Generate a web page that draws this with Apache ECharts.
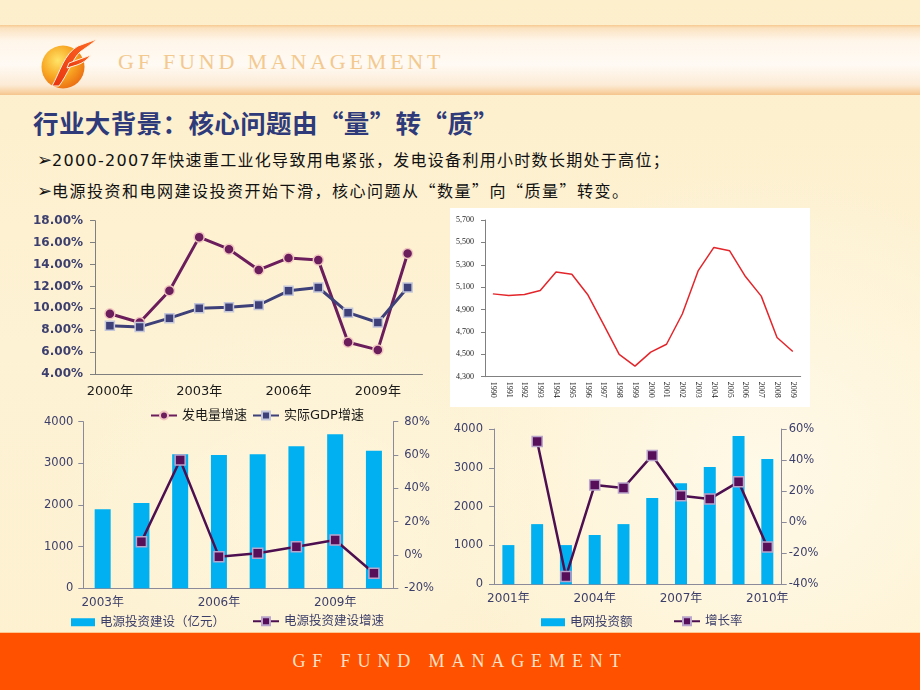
<!DOCTYPE html>
<html><head><meta charset="utf-8">
<script src="https://cdn.jsdelivr.net/npm/echarts@6/dist/echarts.min.js"></script>
<style>
html,body{margin:0;padding:0;background:#fdf0cf;}
#slide{position:relative;width:920px;height:690px;overflow:hidden;
  background:
   radial-gradient(ellipse 330px 300px at 760px 470px, rgba(255,250,235,0.85) 0%, rgba(255,248,228,0.5) 60%, rgba(255,248,228,0) 100%),
   radial-gradient(ellipse 260px 200px at 300px 520px, rgba(255,248,230,0.5) 0%, rgba(255,248,230,0) 100%),
   linear-gradient(to bottom, #fdefcc 0%, #fdf2d4 50%, #fdf1d0 100%);}
#topband{position:absolute;left:0;top:25px;width:920px;height:70px;
  background:linear-gradient(to bottom,#f7c98f 0px,#fbe2c0 3px,#fff6ea 16px,#fffaf4 40px,#fcebd6 60px,#f8d2a4 67px,#f5c48c 70px);}
#brand{position:absolute;left:118px;top:48px;font-family:"Liberation Serif",serif;font-size:22px;letter-spacing:3.8px;color:#f3c98f;white-space:nowrap;line-height:28px;}
#title{position:absolute;left:33px;top:105px;font-family:"Noto Sans CJK SC",sans-serif;font-weight:bold;font-size:25.5px;letter-spacing:0.4px;color:#2e3a7a;white-space:nowrap;line-height:34px;}
.bullet{position:absolute;left:37px;font-size:16px;color:#111;white-space:nowrap;letter-spacing:1.3px;line-height:22px;}
.b1{font-family:"DejaVu Sans","Noto Sans CJK SC",sans-serif;}
.b2{font-family:"Noto Sans CJK SC","DejaVu Sans",sans-serif;letter-spacing:1.5px;}
.arr{font-family:"DejaVu Sans",sans-serif;font-size:18px;font-weight:bold;letter-spacing:0;}
#whitebox{position:absolute;left:450px;top:208px;width:360px;height:199px;background:#ffffff;}
#chart{position:absolute;left:0;top:0;width:920px;height:690px;}
#footer{position:absolute;left:0;top:632px;width:920px;height:58px;background:#ff5100;border-top:1px solid #ffc890;}
#footer span{position:absolute;left:0;width:920px;top:16px;text-align:center;font-family:"Liberation Serif",serif;font-size:18px;letter-spacing:6.9px;color:#fde2c6;line-height:24px;}
#logo{position:absolute;left:0;top:0;}
</style></head><body>
<div id="slide">
  <div id="topband"></div>
  <svg id="logo" width="120" height="100" viewBox="0 0 120 100">
    <defs>
      <radialGradient id="rg" cx="0.38" cy="0.35" r="0.7">
        <stop offset="0" stop-color="#ffe468"/>
        <stop offset="0.55" stop-color="#f8a723"/>
        <stop offset="1" stop-color="#eb6d12"/>
      </radialGradient>
      <linearGradient id="fg" x1="0" y1="1" x2="1" y2="0">
        <stop offset="0" stop-color="#e8330f"/>
        <stop offset="1" stop-color="#ff6a24"/>
      </linearGradient>
    </defs>
    <circle cx="63" cy="67" r="21.5" fill="url(#rg)"/>
    <path d="M52 86 C60 72, 64 54, 78 46 L97 39 C91 45, 85 48, 80 52 C73 58, 68 74, 59 86 Z" fill="url(#fg)" stroke="#fff3e0" stroke-width="1"/>
    <path d="M69 63 L91 55 C87 60, 83 63, 77 65 L67 68 Z" fill="url(#fg)" stroke="#fff3e0" stroke-width="1"/>
  </svg>
  <div id="brand">GF FUND MANAGEMENT</div>
  <div id="title">行业大背景：核心问题由“量”转“质”</div>
  <div class="bullet b1" style="top:149px"><span class="arr">➢</span>2000-2007年快速重工业化导致用电紧张，发电设备利用小时数长期处于高位；</div>
  <div class="bullet b2" style="top:179px"><span class="arr">➢</span>电源投资和电网建设投资开始下滑，核心问题从“数量”向“质量”转变。</div>
  <div id="whitebox"></div>
  <div id="chart"></div>
  <div id="footer"><span>GF FUND MANAGEMENT</span></div>
</div>
<script>
// ---- data ----
const years1 = ['2000年','2001年','2002年','2003年','2004年','2005年','2006年','2007年','2008年','2009年','2010年'];
const powerGrowth = [9.5, 8.7, 11.6, 16.5, 15.4, 13.5, 14.6, 14.4, 6.9, 6.2, 15.0];
const gdpGrowth = [8.4, 8.3, 9.1, 10.0, 10.1, 10.3, 11.6, 11.9, 9.6, 8.7, 11.9];

const years2 = ['1990','1991','1992','1993','1994','1995','1996','1997','1998','1999','2000','2001','2002','2003','2004','2005','2006','2007','2008','2009'];
const utilHours = [5040, 5025, 5035, 5070, 5235, 5215, 5035, 4770, 4500, 4395, 4520, 4590, 4860, 5245, 5455, 5425, 5195, 5020, 4650, 4525];

const years3 = ['2003年','2004年','2005年','2006年','2007年','2008年','2009年','2010年'];
const powerInvest = [1900, 2050, 3220, 3200, 3220, 3410, 3700, 3300];
const powerInvestGrowth = [null, 8, 57, -1, 1, 5, 9, -11];

const years4 = ['2001年','2002年','2003年','2004年','2005年','2006年','2007年','2008年','2009年','2010年'];
const gridInvest = [1010, 1550, 1010, 1270, 1550, 2220, 2600, 3020, 3820, 3230];
const gridGrowth = [null, 52, -35, 24, 22, 43, 17, 15, 26, -16];

// ---- chart ----
const FF = '"DejaVu Sans","Noto Sans CJK SC",sans-serif';
const SERIF = '"Liberation Serif",serif';
const axCol = '#8a8a9a';
const txtCol = '#3d3f6b';
const plain = v => String(v);

const chart = echarts.init(document.getElementById('chart'), null, {renderer:'canvas'});
const lineLegend = (name, left, top, color, fs) => ({
  data:[name], left:left, top:top, itemWidth:26, itemHeight:10, itemGap:0, padding:0,
  textStyle:{fontFamily:FF, fontSize:fs, color:color}
});
chart.setOption({
  animation:false,
  backgroundColor:'transparent',
  grid:[
    {left:95, top:220.7, width:327.5, height:153.3},
    {left:485, top:220, width:315.7, height:156.7},
    {left:83.3, top:421.7, width:310, height:166.6},
    {left:494, top:429, width:287.7, height:155.3}
  ],
  legend:[
    lineLegend('发电量增速', 150, 409, '#1a1a1a', 13),
    lineLegend('实际GDP增速', 252, 409, '#1a1a1a', 13),
    {data:['电源投资建设（亿元）'], left:71, top:616, icon:'rect', itemWidth:24, itemHeight:8, padding:0, textStyle:{fontFamily:FF, fontSize:12.5, color:txtCol}},
    lineLegend('电源投资建设增速', 252, 615, txtCol, 12.5),
    {data:['电网投资额'], left:541, top:616, icon:'rect', itemWidth:24, itemHeight:8, padding:0, textStyle:{fontFamily:FF, fontSize:12.5, color:txtCol}},
    lineLegend('增长率', 673, 615, txtCol, 12.5)
  ],
  xAxis:[
    {gridIndex:0, type:'category', data:years1, boundaryGap:true,
     axisLine:{lineStyle:{color:'#7f7f7f', width:1}},
     axisTick:{interval:1, length:5, lineStyle:{color:'#7f7f7f'}},
     axisLabel:{interval:2, color:'#1a1a1a', fontSize:13, margin:11, fontFamily:FF}},
    {gridIndex:1, type:'category', data:years2, boundaryGap:true,
     axisLine:{lineStyle:{color:'#808080', width:1}},
     axisTick:{interval:0, length:4, lineStyle:{color:'#808080'}},
     axisLabel:{interval:0, rotate:-90, color:'#222', fontSize:8, margin:5, fontFamily:SERIF}},
    {gridIndex:2, type:'category', data:years3, boundaryGap:true,
     axisLine:{lineStyle:{color:axCol, width:1}},
     axisTick:{interval:0, length:5, lineStyle:{color:axCol}},
     axisLabel:{interval:2, color:txtCol, fontSize:12, margin:9, fontFamily:FF}},
    {gridIndex:3, type:'category', data:years4, boundaryGap:true,
     axisLine:{lineStyle:{color:axCol, width:1}},
     axisTick:{interval:0, length:5, lineStyle:{color:axCol}},
     axisLabel:{interval:2, color:txtCol, fontSize:12, margin:9, fontFamily:FF}}
  ],
  yAxis:[
    {gridIndex:0, type:'value', min:4, max:18, interval:2, splitLine:{show:false},
     axisLine:{show:true, lineStyle:{color:'#7f7f7f'}}, axisTick:{show:true, length:5, lineStyle:{color:'#7f7f7f'}},
     axisLabel:{formatter:v=>v.toFixed(2)+'%', fontWeight:'bold', color:'#3c3f6e', fontSize:12, margin:12, fontFamily:FF}},
    {gridIndex:1, type:'value', min:4300, max:5700, interval:200, splitLine:{show:false},
     axisLine:{show:true, lineStyle:{color:'#808080'}}, axisTick:{show:true, length:4, lineStyle:{color:'#808080'}},
     axisLabel:{formatter:v=>String(v).replace(/(\d)(\d{3})$/,'$1,$2'), color:'#222', fontSize:8, margin:11, fontFamily:SERIF}},
    {gridIndex:2, type:'value', min:0, max:4000, interval:1000, splitLine:{show:false},
     axisLine:{show:true, lineStyle:{color:axCol}}, axisTick:{show:true, length:5, lineStyle:{color:axCol}},
     axisLabel:{formatter:plain, color:txtCol, fontSize:11.5, margin:10, fontFamily:FF}},
    {gridIndex:2, type:'value', position:'right', min:-20, max:80, interval:20, splitLine:{show:false},
     axisLine:{show:true, lineStyle:{color:axCol}}, axisTick:{show:true, length:5, lineStyle:{color:axCol}},
     axisLabel:{formatter:'{value}%', color:txtCol, fontSize:11.5, margin:11, fontFamily:FF}},
    {gridIndex:3, type:'value', min:0, max:4000, interval:1000, splitLine:{show:false},
     axisLine:{show:true, lineStyle:{color:axCol}}, axisTick:{show:true, length:5, lineStyle:{color:axCol}},
     axisLabel:{formatter:plain, color:txtCol, fontSize:11.5, margin:11, fontFamily:FF}},
    {gridIndex:3, type:'value', position:'right', min:-40, max:60, interval:20, splitLine:{show:false},
     axisLine:{show:true, lineStyle:{color:axCol}}, axisTick:{show:true, length:5, lineStyle:{color:axCol}},
     axisLabel:{formatter:'{value}%', color:txtCol, fontSize:11.5, margin:7, fontFamily:FF}}
  ],
  series:[
    {name:'发电量增速', type:'line', xAxisIndex:0, yAxisIndex:0, data:powerGrowth,
     lineStyle:{color:'#6b1d5c', width:3}, symbol:'circle', symbolSize:10,
     itemStyle:{color:'#6b1d5c', borderColor:'#f2c6c0', borderWidth:1.5}},
    {name:'实际GDP增速', type:'line', xAxisIndex:0, yAxisIndex:0, data:gdpGrowth,
     lineStyle:{color:'#3d4079', width:3}, symbol:'rect', symbolSize:9,
     itemStyle:{color:'#3d4079', borderColor:'#c4c6dc', borderWidth:1.5}},
    {name:'利用小时', type:'line', xAxisIndex:1, yAxisIndex:1, data:utilHours,
     lineStyle:{color:'#e3262b', width:1.5}, symbol:'none', itemStyle:{color:'#e3262b'}},
    {name:'电源投资建设（亿元）', type:'bar', xAxisIndex:2, yAxisIndex:2, data:powerInvest,
     barWidth:16, itemStyle:{color:'#00b0f0'}},
    {name:'电源投资建设增速', type:'line', xAxisIndex:2, yAxisIndex:3, data:powerInvestGrowth,
     lineStyle:{color:'#4e0f50', width:2.5}, symbol:'rect', symbolSize:10,
     itemStyle:{color:'#560f58', borderColor:'#b9a4cc', borderWidth:1.5}},
    {name:'电网投资额', type:'bar', xAxisIndex:3, yAxisIndex:4, data:gridInvest,
     barWidth:12, itemStyle:{color:'#00b0f0'}},
    {name:'增长率', type:'line', xAxisIndex:3, yAxisIndex:5, data:gridGrowth,
     lineStyle:{color:'#4e0f50', width:2.5}, symbol:'rect', symbolSize:10,
     itemStyle:{color:'#560f58', borderColor:'#b9a4cc', borderWidth:1.5}}
  ]
});
</script>
</body></html>
